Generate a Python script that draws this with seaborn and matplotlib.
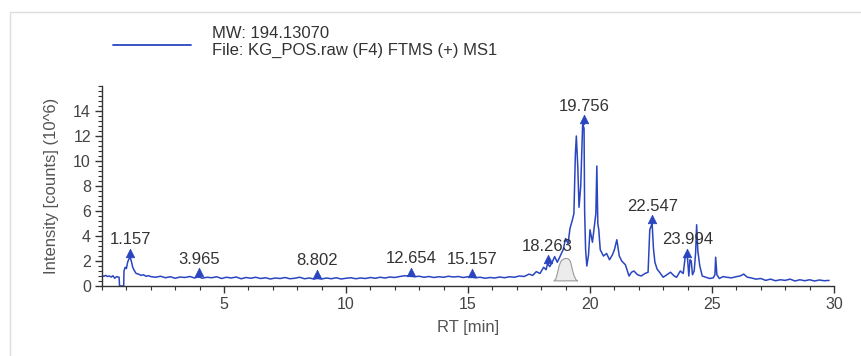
import matplotlib
matplotlib.use("Agg")
import matplotlib.pyplot as plt
import seaborn as sns
import pandas as pd
from matplotlib.lines import Line2D
from matplotlib.patches import Rectangle
from matplotlib.ticker import MultipleLocator, AutoMinorLocator

# ---------------- data ----------------
rt = [0.0, 0.08, 0.15, 0.22, 0.3, 0.38, 0.45, 0.52, 0.6, 0.7, 0.72, 0.89, 0.9, 0.95, 1.0,
      1.05, 1.1, 1.157, 1.2, 1.26, 1.32, 1.4, 1.5, 1.6, 1.7, 1.8, 1.9, 2.0,
      2.2, 2.4, 2.6, 2.8, 3.0, 3.2, 3.4, 3.6, 3.8, 3.965, 4.1, 4.3, 4.5, 4.7, 4.9,
      5.1, 5.3, 5.5, 5.7, 5.9, 6.1, 6.3, 6.5, 6.7, 6.9, 7.1, 7.3, 7.5, 7.7, 7.9,
      8.1, 8.3, 8.5, 8.7, 8.802, 9.0, 9.2, 9.4, 9.6, 9.8, 10.0, 10.2, 10.4, 10.6,
      10.8, 11.0, 11.2, 11.4, 11.6, 11.8, 12.0, 12.2, 12.4, 12.654, 12.8, 13.0,
      13.2, 13.4, 13.6, 13.8, 14.0, 14.2, 14.4, 14.6, 14.8, 15.0, 15.157, 15.3,
      15.5, 15.7, 15.9, 16.1, 16.3, 16.5, 16.7, 16.9, 17.1, 17.3, 17.5, 17.65,
      17.8, 17.95, 18.1, 18.2, 18.263, 18.35, 18.45, 18.55, 18.66, 18.78, 18.9,
      19.0, 19.1, 19.18, 19.28, 19.34, 19.4, 19.44, 19.5, 19.55, 19.62, 19.7,
      19.756, 19.78, 19.82, 19.87, 19.94, 20.0, 20.1, 20.18, 20.24, 20.28, 20.32,
      20.36, 20.42, 20.55, 20.68, 20.8, 20.92, 21.0, 21.1, 21.2, 21.3, 21.45,
      21.6, 21.7, 21.8, 21.95, 22.1, 22.25, 22.38, 22.45, 22.547, 22.6, 22.66,
      22.75, 22.85, 23.0, 23.15, 23.3, 23.45, 23.55, 23.7, 23.82, 23.9, 23.994,
      24.05, 24.1, 24.15, 24.2, 24.27, 24.33, 24.37, 24.42, 24.5, 24.6, 24.75,
      24.9, 25.05, 25.12, 25.15, 25.2, 25.3, 25.45, 25.6, 25.8, 26.0, 26.15,
      26.3, 26.45, 26.6, 26.8, 27.0, 27.2, 27.4, 27.6, 27.8, 28.0, 28.2, 28.4,
      28.6, 28.8, 29.0, 29.2, 29.4, 29.6, 29.8]
intensity = [0.82, 0.78, 0.85, 0.76, 0.8, 0.72, 0.82, 0.62, 0.75, 0.7, 0.0, 0.0, 1.2, 1.5, 1.4,
             1.9, 2.15, 2.3, 2.0, 1.5, 1.25, 1.0, 0.95, 0.85, 0.9, 0.78, 0.82, 0.75,
             0.7, 0.78, 0.66, 0.74, 0.62, 0.72, 0.68, 0.76, 0.64, 0.75, 0.62, 0.7, 0.66, 0.74, 0.6,
             0.7, 0.64, 0.72, 0.58, 0.68, 0.62, 0.7, 0.6, 0.66, 0.56, 0.64, 0.6, 0.68, 0.58, 0.62,
             0.7, 0.58, 0.64, 0.55, 0.62, 0.56, 0.64, 0.58, 0.66, 0.56, 0.62, 0.66, 0.58, 0.64,
             0.6, 0.68, 0.62, 0.7, 0.64, 0.72, 0.68, 0.76, 0.82, 0.8, 0.74, 0.78,
             0.7, 0.76, 0.68, 0.74, 0.7, 0.78, 0.72, 0.76, 0.68, 0.74, 0.72, 0.66,
             0.7, 0.62, 0.68, 0.64, 0.72, 0.66, 0.74, 0.7, 0.8, 0.76, 0.95, 0.85,
             1.15, 1.0, 1.5, 1.3, 1.8, 1.55, 1.9, 2.35, 1.9, 2.4, 2.9,
             3.8, 3.4, 4.6, 5.3, 5.8, 10.5, 12.0, 9.5, 6.3, 8.0, 13.0,
             12.6, 6.0, 2.9, 1.6, 2.5, 4.5, 3.5, 4.8, 5.8, 9.6, 5.0,
             4.5, 2.9, 2.4, 2.6, 2.1, 2.5, 2.9, 3.7, 2.4, 2.0, 1.7,
             0.8, 1.1, 1.2, 0.9, 0.8, 1.0, 1.1, 4.5, 5.0, 3.0, 1.9,
             1.35, 1.1, 0.7, 0.9, 1.1, 0.8, 0.7, 1.2, 1.0, 2.3, 2.3,
             0.8, 2.1, 2.0, 0.9, 1.2, 2.7, 4.9, 2.8, 1.6, 0.8, 0.7,
             0.6, 0.65, 0.9, 2.3, 0.9, 0.6, 0.75, 0.7, 0.65, 0.75, 0.8,
             0.95, 0.7, 0.65, 0.55, 0.6, 0.45, 0.55, 0.42, 0.5, 0.45, 0.55, 0.4,
             0.5, 0.42, 0.5, 0.4, 0.48, 0.42, 0.45]

# labelled peaks (apex annotations)
peak_rt = [1.157, 3.965, 8.802, 12.654, 15.157, 18.263, 19.756, 22.547, 23.994]
peak_int = [2.3, 0.75, 0.62, 0.8, 0.72, 1.8, 13.0, 5.0, 2.3]
peak_labels = ["1.157", "3.965", "8.802", "12.654", "15.157", "18.263", "19.756", "22.547", "23.994"]

# grey integrated peak area near 19 min
area_rt = [18.5, 18.58, 18.65, 18.72, 18.8, 18.9, 19.0, 19.1, 19.18, 19.25, 19.32, 19.4, 19.47]
area_int = [0.45, 0.6, 1.1, 1.7, 2.05, 2.2, 2.25, 2.2, 2.0, 1.4, 0.9, 0.55, 0.45]

legend_lines = ["MW: 194.13070", "File: KG_POS.raw (F4) FTMS (+) MS1"]
x_label = "RT [min]"
y_label = "Intensity [counts] (10^6)"
x_ticks = [5, 10, 15, 20, 25, 30]
y_ticks = [0, 2, 4, 6, 8, 10, 12, 14]

# ---------------- styling ----------------
sns.set_theme(style="ticks")
plt.rcParams["font.family"] = ["Liberation Sans", "DejaVu Sans"]

LINE = "#2a45c0"
TXT = "#333333"

W, H = 861, 356
fig = plt.figure(figsize=(W / 100, H / 100), dpi=100)
fig.patch.set_facecolor("white")
fig.add_artist(Rectangle((10 / W, -0.1), 1.2, (H - 12) / H + 0.1, transform=fig.transFigure,
                         fill=False, edgecolor="#dddddd", linewidth=1.0))

ax = fig.add_axes([102 / W, (H - 286) / H, (834 - 102) / W, 200 / H])

df = pd.DataFrame({"rt": rt, "intensity": intensity})
ax.fill_between(area_rt, area_int[0], area_int, color="#ececec", edgecolor="#9a9a9a", linewidth=0.8, zorder=1)
sns.lineplot(data=df, x="rt", y="intensity", ax=ax, color=LINE, linewidth=1.1,
             estimator=None, sort=False, zorder=2)

pk = pd.DataFrame({"rt": peak_rt, "intensity": peak_int})
for r, v in zip(peak_rt, peak_int):
    ax.plot([r, r], [v, v + 0.35], color=LINE, linewidth=1.6, zorder=3)
sns.scatterplot(data=pk.assign(intensity=pk["intensity"] + 0.35), x="rt", y="intensity", ax=ax,
                marker="^", s=38, color=LINE, edgecolor=LINE, linewidth=0.5, zorder=4)
for r, v, lab in zip(peak_rt, peak_int, peak_labels):
    ax.annotate(lab, (r, v + 0.35), xytext=(0, 4), textcoords="offset points",
                ha="center", va="bottom", fontsize=12, color=TXT)

ax.set_xlim(0, 30)
ax.set_ylim(0, 16)
ax.set_xticks(x_ticks)
ax.set_yticks(y_ticks)
ax.xaxis.set_minor_locator(MultipleLocator(1))
ax.yaxis.set_minor_locator(AutoMinorLocator(5))
ax.tick_params(axis="both", which="major", labelsize=11.5, labelcolor="#444444", color="#333333",
               length=5, width=1, direction="out", pad=3)
ax.tick_params(axis="both", which="minor", color="#333333", length=3, width=0.8, direction="out")
for s in ["top", "right"]:
    ax.spines[s].set_visible(False)
for s in ["left", "bottom"]:
    ax.spines[s].set_color("#333333")
    ax.spines[s].set_linewidth(1.0)
ax.set_xlabel(x_label, fontsize=12, color="#555555", labelpad=6)
ax.set_ylabel(y_label, fontsize=12, color="#555555", labelpad=10)
ax.set_facecolor("white")

# legend
fig.add_artist(Line2D([113 / W, 191 / W], [(H - 45) / H] * 2, color=LINE, linewidth=1.3,
                      transform=fig.transFigure))
fig.text(212 / W, (H - 33) / H, legend_lines[0], fontsize=12, color=TXT, va="center", ha="left")
fig.text(212 / W, (H - 50) / H, legend_lines[1], fontsize=12, color=TXT, va="center", ha="left")

fig.savefig("out.png", dpi=100, facecolor="white")
